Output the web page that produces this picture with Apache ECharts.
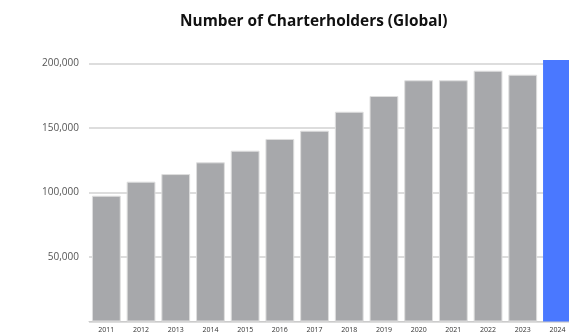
<!DOCTYPE html>
<html>
<head>
<meta charset="utf-8">
<style>
  html, body { margin: 0; padding: 0; background: #ffffff; }
  #chart { width: 569px; height: 334px; }
</style>
<script src="https://cdn.jsdelivr.net/npm/echarts@6/dist/echarts.min.js"></script>
</head>
<body>
<div id="chart"></div>
<script>
// Global charterholder counts by year
const years = ['2011', '2012', '2013', '2014', '2015', '2016', '2017',
               '2018', '2019', '2020', '2021', '2022', '2023', '2024'];
const charterholders = [97500, 108400, 114300, 123400, 132400, 141500, 147900,
                        162600, 174800, 187000, 187000, 194400, 191300, 202700];
const highlightYear = '2024';

const grayFill = '#a7a8ab';
const blueFill = '#4a78ff';

const barData = charterholders.map((v, i) => ({
  value: v,
  itemStyle: years[i] === highlightYear
    ? { color: blueFill, borderWidth: 0 }
    : { color: grayFill, borderColor: '#dedede', borderWidth: 1 }
}));

const chart = echarts.init(document.getElementById('chart'), null, { renderer: 'canvas' });
chart.setOption({
  animation: false,
  backgroundColor: '#ffffff',
  title: {
    text: 'Number of Charterholders (Global)',
    left: 175,
    top: 9,
    textStyle: { fontFamily: 'Open Sans', fontWeight: 'bold', fontSize: 15.4, color: '#111111' }
  },
  grid: { left: 89, top: 63.5, height: 258, width: 485.8, outerBoundsMode: 'none', containLabel: false },
  xAxis: {
    type: 'category',
    data: years,
    axisTick: { show: false },
    axisLine: { lineStyle: { color: '#cccccc', width: 1 } },
    axisLabel: { fontFamily: 'Open Sans', fontSize: 7, color: '#333333', margin: 5 }
  },
  yAxis: {
    type: 'value',
    min: 0,
    max: 200000,
    interval: 50000,
    axisLine: { show: false },
    axisTick: { show: false },
    splitLine: { lineStyle: { color: '#d2d2d2', width: 1.5 } },
    axisLabel: {
      fontFamily: 'Open Sans', fontSize: 10, color: '#555555', margin: 10,
      showMinLabel: false,
      formatter: v => v.toLocaleString('en-US')
    }
  },
  series: [{
    type: 'bar',
    data: barData,
    barCategoryGap: '17%',
    clip: false
  }]
});
</script>
</body>
</html>
